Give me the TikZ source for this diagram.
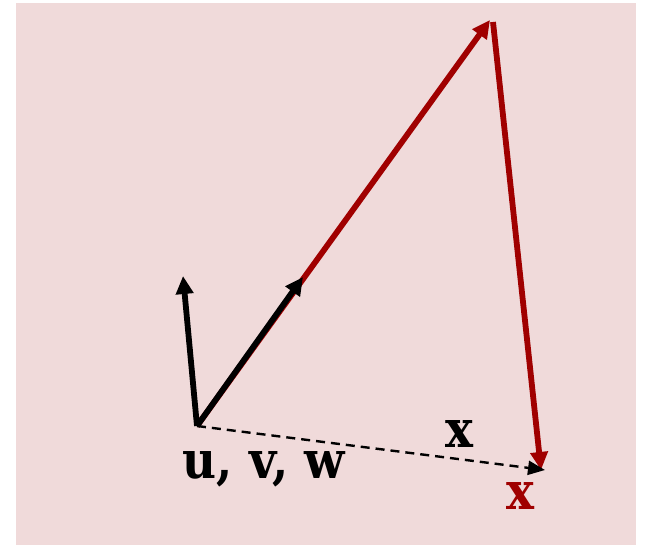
\documentclass[tikz,border=0pt]{standalone}
\usepackage{fontspec}
\setmainfont{DejaVu Serif Condensed}
\usetikzlibrary{arrows.meta}
\definecolor{bgpink}{HTML}{F0DADA}
\definecolor{vred}{HTML}{A00000}
\tikzset{
  vec/.style={line width=5.8pt, -{Triangle[length=18pt,width=17pt]}},
  dashvec/.style={line width=2.4pt, dash pattern=on 9pt off 6pt, -{Triangle[length=17pt,width=14pt]}},
  lbl/.style={font=\bfseries\fontsize{52}{52}\selectfont, inner sep=0pt}
}
\begin{document}
\begin{tikzpicture}[x=1pt,y=-1pt]
\useasboundingbox (0,0) rectangle (645,545);
\fill[bgpink] (16,3) rectangle (636,545);
\coordinate (O) at (197,426);
\coordinate (A) at (490,20);
\coordinate (A2) at (493,22);
\coordinate (B) at (541,470);
\coordinate (V) at (303,277);
\coordinate (U) at (183,276);
\coordinate (X) at (545,470);
\draw[vec, vred] (O) -- (A);
\draw[vec, vred] (A2) -- (B);
\draw[vec, black] (O) -- (V);
\draw[vec, black] (O) -- (U);
\draw[dashvec, black] (O) -- (X);
\node[lbl, anchor=base] (luvw) at (264,478) {u, v, w};
\node[lbl] (lx) at (459,434) {x};
\node[lbl, text=vred] (lxr) at (520,496) {x};
\end{tikzpicture}
\end{document}
